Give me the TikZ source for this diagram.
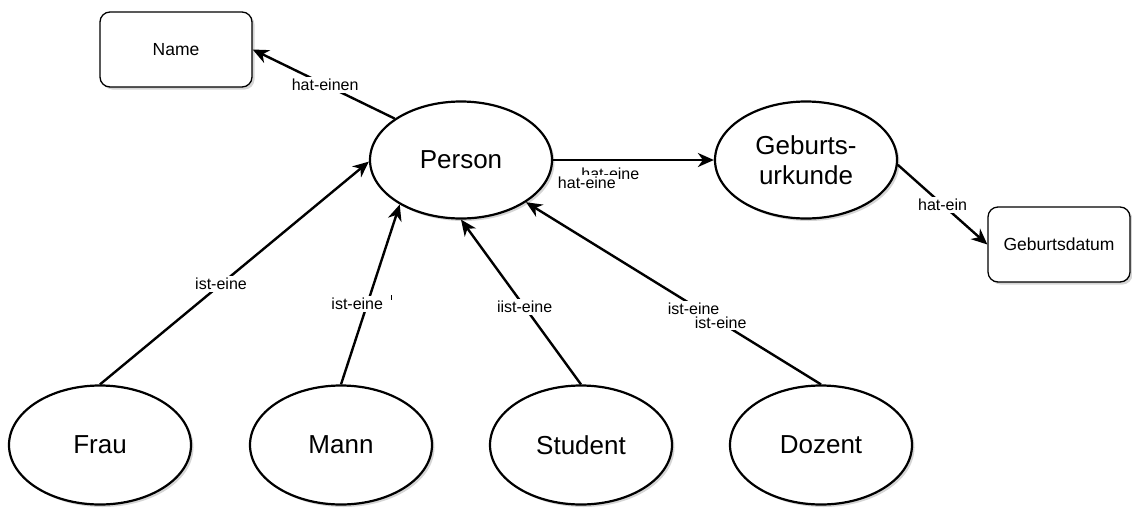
\documentclass[tikz,border=0pt]{standalone}
\usepackage{fontspec}
\setmainfont{Liberation Sans}
\usetikzlibrary{shapes.geometric,arrows.meta,shadows}

\begin{document}
\begin{tikzpicture}[x=1pt,y=-1pt,
  softshadow/.style={drop shadow={shadow xshift=2.5pt, shadow yshift=-2.5pt, opacity=0.3, fill=black!55}},
  ent/.style={ellipse, draw, line width=2.2pt, fill=white, inner sep=0pt,
    minimum width=182pt, minimum height=117pt, align=center,
    font=\fontsize{26}{30}\selectfont, softshadow},
  attr/.style={rectangle, rounded corners=10pt, draw, line width=1.3pt, fill=white,
    inner sep=0pt, minimum height=75pt, font=\fontsize{17.5}{21}\selectfont, softshadow},
  rel/.style={line width=2.4pt, -{Stealth[length=16pt,width=14pt,inset=5pt]}},
  lbl/.style={fill=white, inner sep=2pt, font=\fontsize{16}{19}\selectfont}
]
\useasboundingbox (0,0) rectangle (1132,509);

% entities
\node[ent] (person) at (461,160) {Person};
\node[ent] (gu) at (806,160) {Geburts-\\urkunde};
\node[ent, minimum height=119pt] (frau) at (100,445) {Frau};
\node[ent, minimum height=119pt] (mann) at (341,445) {Mann};
\node[ent, minimum height=119pt] (student) at (581,445) {Student};
\node[ent, minimum height=119pt] (dozent) at (821,445) {Dozent};

% attributes
\node[attr, minimum width=152pt] (name) at (176,49.5) {Name};
\node[attr, minimum width=142pt] (gd) at (1059,244.5) {Geburtsdatum};

% relations
\draw[rel] (person.148) -- (name.east)
  node[lbl, pos=0.49] (l-name) {hat-einen};
\draw[rel] (person.east) -- (gu.west)
  node[lbl, pos=0.356, yshift=-14pt] (l-gu1) {hat-eine}
  node[lbl, pos=0.21, yshift=-23pt] (l-gu2) {hat-eine};
\draw[rel] (gu.-3) -- (gd.west)
  node[lbl, pos=0.5] (l-gd) {hat-ein};

\draw[rel] (frau.north) -- (person.181)
  node[lbl, pos=0.45] (l-frau) {ist-eine};
\draw[rel] (mann.north) -- (person.216)
  node[lbl, pos=0.447, xshift=-10pt] (l-mann) {ist-eine};
\draw[line width=0.9pt] (391,295) -- (391,300);
\draw[rel] (student.north) -- (person.south)
  node[lbl, pos=0.47] (l-student) {iist-eine};
\draw[rel] (dozent.north) -- (person.327)
  node[lbl, pos=0.415, xshift=-5pt] (l-doz1) {ist-eine}
  node[lbl, pos=0.34] (l-doz2) {ist-eine};
\end{tikzpicture}
\end{document}
